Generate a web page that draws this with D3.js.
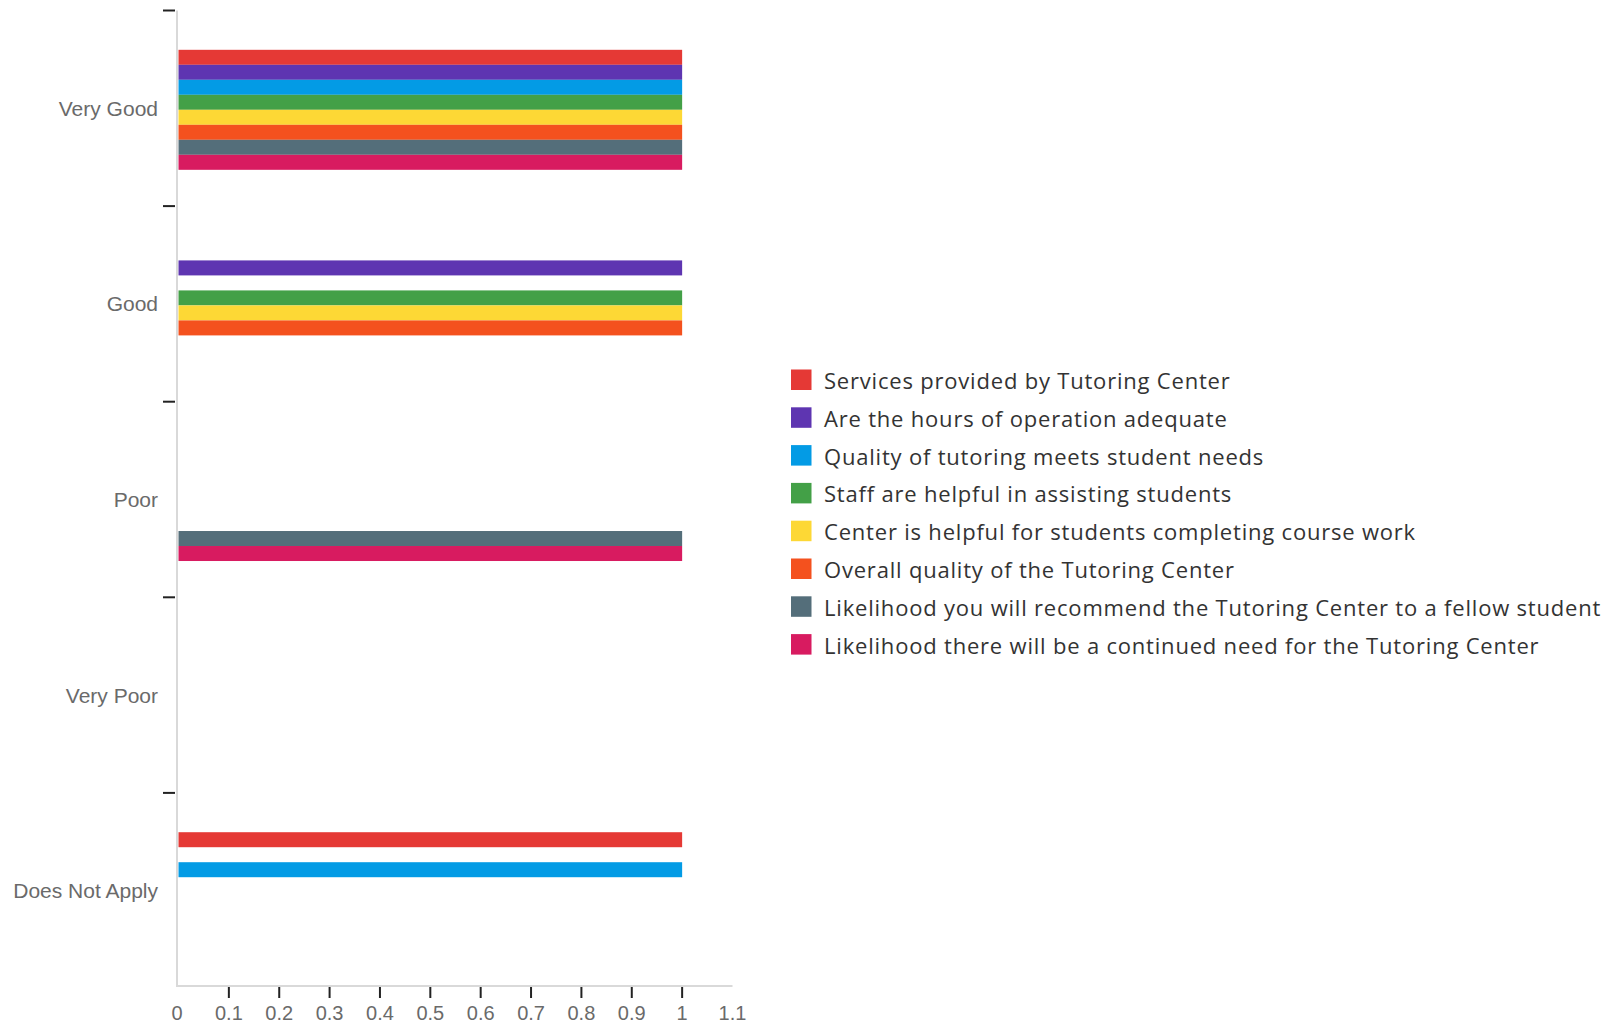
<!DOCTYPE html>
<html>
<head>
<meta charset="utf-8">
<script src="https://cdn.jsdelivr.net/npm/d3@7"></script>
<style>
  html, body { margin: 0; padding: 0; background: #fff; }
  svg { display: block; }
</style>
</head>
<body>
<svg id="chart" width="1622" height="1025"></svg>
<script>
const categories = ["Very Good", "Good", "Poor", "Very Poor", "Does Not Apply"];
const seriesNames = [
  "Services provided by Tutoring Center",
  "Are the hours of operation adequate",
  "Quality of tutoring meets student needs",
  "Staff are helpful in assisting students",
  "Center is helpful for students completing course work",
  "Overall quality of the Tutoring Center",
  "Likelihood you will recommend the Tutoring Center to a fellow student",
  "Likelihood there will be a continued need for the Tutoring Center"
];
const seriesColors = ["#e53935", "#5e35b1", "#039be5", "#43a047", "#fdd835", "#f4511e", "#546e7a", "#d81b60"];
// values per series, in category order
const servicesVals   = [1, 0, 0, 0, 1];
const hoursVals      = [1, 1, 0, 0, 0];
const qualityVals    = [1, 0, 0, 0, 1];
const staffVals      = [1, 1, 0, 0, 0];
const centerVals     = [1, 1, 0, 0, 0];
const overallVals    = [1, 1, 0, 0, 0];
const recommendVals  = [1, 0, 1, 0, 0];
const needVals       = [1, 0, 1, 0, 0];
const xTicks = [0, 0.1, 0.2, 0.3, 0.4, 0.5, 0.6, 0.7, 0.8, 0.9, 1, 1.1];

const seriesValues = [servicesVals, hoursVals, qualityVals, staffVals, centerVals, overallVals, recommendVals, needVals];

const svg = d3.select("#chart");
const plotLeft = 177, plotTop = 10.5, plotBottom = 988.5, xAxisY = 986;

const x = d3.scaleLinear().domain([0, 1.1]).range([178.5, 732.5]);
const y0 = d3.scaleBand().domain(categories).range([plotTop, plotBottom]).padding(0);
const y1 = d3.scaleBand().domain(seriesNames).range([0, y0.bandwidth()])
  .paddingInner(0).paddingOuter(2.52).align(0.52);

// bars
const data = [];
categories.forEach((c, ci) => {
  seriesNames.forEach((s, si) => {
    data.push({cat: c, series: s, value: seriesValues[si][ci], color: seriesColors[si]});
  });
});
svg.append("g").selectAll("rect")
  .data(data.filter(d => d.value > 0))
  .join("rect")
  .attr("x", x(0))
  .attr("y", d => y0(d.cat) + y1(d.series))
  .attr("width", d => x(d.value) - x(0))
  .attr("height", y1.bandwidth())
  .attr("fill", d => d.color);

// y axis line
svg.append("line")
  .attr("x1", plotLeft).attr("x2", plotLeft)
  .attr("y1", plotTop).attr("y2", xAxisY + 1)
  .attr("stroke", "#d9d9d9").attr("stroke-width", 2);
// x axis line
svg.append("line")
  .attr("x1", plotLeft - 1).attr("x2", x(1.1))
  .attr("y1", xAxisY).attr("y2", xAxisY)
  .attr("stroke", "#d9d9d9").attr("stroke-width", 2);

// y ticks at band boundaries
svg.append("g").selectAll("line")
  .data(categories)
  .join("line")
  .attr("x1", plotLeft - 14).attr("x2", plotLeft - 2)
  .attr("y1", d => y0(d)).attr("y2", d => y0(d))
  .attr("stroke", "#222").attr("stroke-width", 2);

// y labels
svg.append("g").selectAll("text")
  .data(categories)
  .join("text")
  .attr("x", plotLeft - 19)
  .attr("y", d => y0(d) + y0.bandwidth() / 2)
  .attr("text-anchor", "end")
  .attr("dominant-baseline", "central")
  .attr("font-family", "Liberation Sans, Arial, sans-serif")
  .attr("font-size", 21)
  .attr("fill", "#6a6a6a")
  .text(d => d);

// x ticks
svg.append("g").selectAll("line")
  .data(xTicks.filter(t => t > 0 && t < 1.05))
  .join("line")
  .attr("x1", d => x(d)).attr("x2", d => x(d))
  .attr("y1", xAxisY + 1).attr("y2", xAxisY + 12)
  .attr("stroke", "#222").attr("stroke-width", 2);

svg.append("g").selectAll("text")
  .data(xTicks)
  .join("text")
  .attr("x", d => x(d) - (d === 0 ? 1.5 : 0))
  .attr("y", 1013)
  .attr("text-anchor", "middle")
  .attr("dominant-baseline", "central")
  .attr("font-family", "Liberation Sans, Arial, sans-serif")
  .attr("font-size", 20)
  .attr("fill", "#6a6a6a")
  .text(d => String(d));

// legend
const legend = svg.append("g").attr("transform", "translate(791,369.5)");
const rowH = 37.8;
const items = legend.selectAll("g")
  .data(seriesNames)
  .join("g")
  .attr("transform", (d, i) => `translate(0,${i * rowH})`);
items.append("rect")
  .attr("width", 20.5).attr("height", 20.5)
  .attr("fill", (d, i) => seriesColors[i]);
items.append("text")
  .attr("x", 33).attr("y", 10.5)
  .attr("dominant-baseline", "central")
  .attr("font-family", "Open Sans, sans-serif")
  .attr("font-size", 22)
  .attr("letter-spacing", 0.8)
  .attr("fill", "#333")
  .text(d => d);
</script>
</body>
</html>
